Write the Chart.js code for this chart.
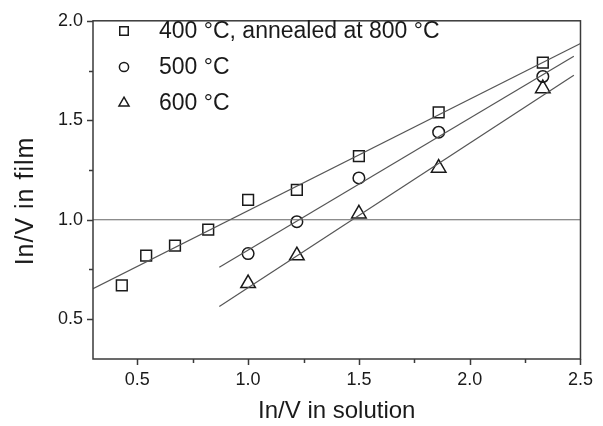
<!DOCTYPE html>
<html lang="en">
<head>
<meta charset="UTF-8">
<title>In/V film vs solution</title>
<script src="https://cdn.jsdelivr.net/npm/chart.js"></script>
<style>
    body { background: #fff; margin: 0; padding: 0; }
    canvas { display: block; }
</style>
</head>
<body>
<canvas id="ivChart" width="603" height="426"></canvas>
<script>
// measured points (In/V in solution -> In/V in film)
const x400 = [0.43, 0.54, 0.67, 0.82, 1.00, 1.22, 1.50, 1.86, 2.33];
const y400 = [0.67, 0.82, 0.87, 0.95, 1.10, 1.15, 1.32, 1.54, 1.79];
const x500 = [1.00, 1.22, 1.50, 1.86, 2.33];
const y500 = [0.83, 0.99, 1.21, 1.44, 1.72];
const x600 = [1.00, 1.22, 1.50, 1.86, 2.33];
const y600 = [0.68, 0.82, 1.03, 1.26, 1.66];

// linear fits, start and end points
const fit400 = [[0.30, 0.653], [2.50, 1.886]];
const fit500 = [[0.87, 0.761], [2.47, 1.822]];
const fit600 = [[0.87, 0.564], [2.47, 1.726]];
const refLine = [[0.30, 1.0], [2.50, 1.0]];

const labels = ['400 °C, annealed at 800 °C', '500 °C', '600 °C'];
const xTicks = [0.5, 1.0, 1.5, 2.0, 2.5];
const yTicks = [0.5, 1.0, 1.5, 2.0];
const xTitle = 'In/V in solution';
const yTitle = 'In/V in film';

const FONT = '"Liberation Sans", Arial, sans-serif';
const INK = '#1a1a1a';
const AXIS = '#3a3a3a';

const pts = (xs, ys) => xs.map((x, i) => ({ x: x, y: ys[i] }));
const seg = a => a.map(p => ({ x: p[0], y: p[1] }));

function lineSet(data, color) {
    return { type: 'line', data: seg(data), borderColor: color, borderWidth: 1.2,
             pointRadius: 0, fill: false, tension: 0 };
}
function markSet(data, style, r) {
    return { type: 'scatter', data: data, pointStyle: style, pointRadius: r, pointHoverRadius: r,
             borderColor: INK, backgroundColor: 'rgba(0,0,0,0)', pointBorderWidth: 1.5, borderWidth: 1.5 };
}

// frame, tick marks, y title and legend
const decor = {
    id: 'decor',
    afterDraw(chart) {
        const { ctx, chartArea: a, scales: { x, y } } = chart;
        ctx.save();
        ctx.strokeStyle = AXIS;
        ctx.lineWidth = 1.5;
        ctx.strokeRect(a.left, a.top, a.right - a.left, a.bottom - a.top);
        ctx.beginPath();
        for (let v = 0.5; v <= 2.5001; v += 0.25) {
            const px = Math.round(x.getPixelForValue(v)) + 0.5;
            const len = Math.abs(v * 2 - Math.round(v * 2)) < 1e-6 ? 6 : 4;
            ctx.moveTo(px, a.bottom); ctx.lineTo(px, a.bottom + len);
        }
        for (let v = 0.5; v <= 2.0001; v += 0.25) {
            const py = Math.round(y.getPixelForValue(v)) + 0.5;
            const len = Math.abs(v * 2 - Math.round(v * 2)) < 1e-6 ? 6 : 4;
            ctx.moveTo(a.left, py); ctx.lineTo(a.left - len, py);
        }
        ctx.stroke();

        // y axis title
        ctx.fillStyle = INK;
        ctx.font = '25px ' + FONT;
        if ('letterSpacing' in ctx) ctx.letterSpacing = '1px';
        ctx.textAlign = 'center';
        ctx.textBaseline = 'alphabetic';
        ctx.translate(33, 201);
        ctx.rotate(-Math.PI / 2);
        ctx.fillText(yTitle, 0, 0);
        ctx.restore();

        // legend, hollow symbols
        ctx.save();
        const styles = [['rect', 6], ['circle', 4.6], ['triangle', 5.8]];
        const rows = [31, 67, 103];
        ctx.font = '23px ' + FONT;
        ctx.textAlign = 'left';
        ctx.textBaseline = 'middle';
        labels.forEach((t, i) => {
            ctx.fillStyle = 'rgba(0,0,0,0)';
            ctx.strokeStyle = INK;
            ctx.lineWidth = 1.5;
            Chart.helpers.drawPoint(ctx, { pointStyle: styles[i][0], radius: styles[i][1], rotation: 0, borderWidth: 1.5 }, 124, rows[i]);
            ctx.fillStyle = INK;
            ctx.fillText(t, 159, rows[i] + 0.5);
        });
        ctx.restore();
    }
};

new Chart(document.getElementById('ivChart').getContext('2d'), {
    type: 'scatter',
    data: {
        datasets: [
            lineSet(refLine, '#666'),
            lineSet(fit400, '#555'),
            lineSet(fit500, '#555'),
            lineSet(fit600, '#555'),
            markSet(pts(x400, y400), 'rect', 7.6),
            markSet(pts(x500, y500), 'circle', 5.8),
            markSet(pts(x600, y600), 'triangle', 8.4)
        ]
    },
    options: {
        responsive: false,
        animation: false,
        layout: { padding: { left: 0, right: 18, top: 16, bottom: 0 } },
        plugins: { legend: { display: false }, tooltip: { enabled: false } },
        scales: {
            x: {
                type: 'linear', min: 0.3, max: 2.5,
                afterBuildTicks: s => { s.ticks = xTicks.map(v => ({ value: v })); },
                afterFit: s => { s.height = 67; },
                grid: { display: false, drawTicks: false },
                border: { display: false },
                ticks: { padding: 10, color: INK, font: { family: FONT, size: 18 },
                         callback: v => v.toFixed(1) },
                title: { display: true, text: xTitle, color: INK, padding: 0,
                         font: { family: FONT, size: 24 } }
            },
            y: {
                type: 'linear', min: 0.3, max: 2.0,
                afterBuildTicks: s => { s.ticks = yTicks.map(v => ({ value: v })); },
                afterFit: s => { s.width = 93; },
                grid: { display: false, drawTicks: false },
                border: { display: false },
                ticks: { padding: 10, color: INK, font: { family: FONT, size: 18 },
                         callback: v => v.toFixed(1) }
            }
        }
    },
    plugins: [decor]
});
</script>
</body>
</html>
